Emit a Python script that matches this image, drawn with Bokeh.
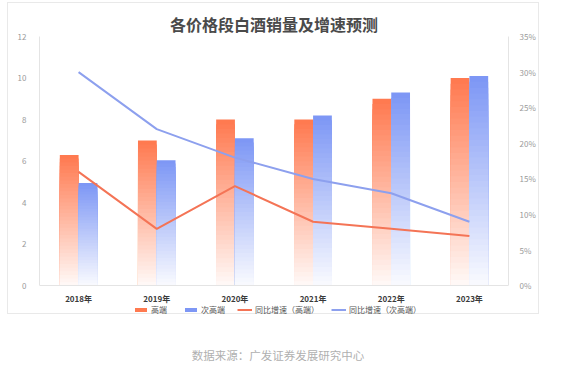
import numpy as np
from bokeh.plotting import figure
from bokeh.models import (ColumnDataSource, FactorRange, Range1d, LinearAxis, Legend,
                          LegendItem, Div, FixedTicker, PrintfTickFormatter, Spacer)
from bokeh.layouts import column, row
from bokeh.transform import dodge
from bokeh.embed import file_html
from bokeh.resources import INLINE

# ---- data ----
years = ["2018年", "2019年", "2020年", "2021年", "2022年", "2023年"]
high_sales = [6.3, 7.0, 8.0, 8.0, 9.0, 10.0]
sub_sales = [4.95, 6.05, 7.1, 8.2, 9.3, 10.1]
high_growth = [16, 8, 14, 9, 8, 7]      # %
sub_growth = [30, 22, 18, 15, 13, 9]    # %
left_ticks = [0, 2, 4, 6, 8, 10, 12]
right_ticks = [0, 5, 10, 15, 20, 25, 30, 35]
series_names = ["高端", "次高端", "同比增速（高端）", "同比增速（次高端）"]
title_text = "各价格段白酒销量及增速预测"
source_text = "数据来源：广发证券发展研究中心"

ORANGE = (255, 120, 78)
BLUE = (124, 150, 245)
ORANGE_LINE = "#F47456"
BLUE_LINE = "#8DA0EE"
FONT = "Noto Sans CJK SC"

N = 36
L_MAX, R_MAX = 12, 35
EXT = 29.5 / 248        # room below zero for the axis labels and legend (fraction of axis span)


def mix(c, t):
    a = 0.04 + 0.96 * t
    r, g, b = (int(round(255 * (1 - a) + ci * a)) for ci in c)
    return "#%02x%02x%02x" % (r, g, b)


def gradient_source(vals, col):
    xs, tops, cols = [], [], []
    for j in range(N, 0, -1):
        t = (j - 0.5) / N
        for y, v in zip(years, vals):
            xs.append(y)
            tops.append(v * j / N)
            cols.append(mix(col, t))
    return ColumnDataSource(dict(year=xs, top=tops, color=cols))


p = figure(width=532, height=312, x_range=FactorRange(*years),
           y_range=Range1d(-L_MAX * EXT, L_MAX),
           output_backend="svg", toolbar_location=None,
           min_border_left=31, min_border_right=32, min_border_top=33, min_border_bottom=0,
           outline_line_color=None, background_fill_color="white", border_fill_color="white",
           styles={"border": "1px solid #e9e9e9"})
p.extra_y_ranges = {"pct": Range1d(-R_MAX * EXT, R_MAX)}

src_h = gradient_source(high_sales, ORANGE)
src_s = gradient_source(sub_sales, BLUE)
r_h = p.vbar(x=dodge("year", -0.12, range=p.x_range), top="top", bottom=0, width=0.24,
             source=src_h, fill_color="color", line_color=None)
r_s = p.vbar(x=dodge("year", 0.12, range=p.x_range), top="top", bottom=0, width=0.24,
             source=src_s, fill_color="color", line_color=None)

r_l1 = p.line(years, high_growth, y_range_name="pct", line_color=ORANGE_LINE, line_width=2)
r_l2 = p.line(years, sub_growth, y_range_name="pct", line_color=BLUE_LINE, line_width=2)

p.xgrid.grid_line_color = None
p.ygrid.grid_line_color = None

p.yaxis[0].ticker = FixedTicker(ticks=left_ticks)
p.yaxis[0].bounds = (0, L_MAX)
right = LinearAxis(y_range_name="pct", ticker=FixedTicker(ticks=right_ticks),
                   formatter=PrintfTickFormatter(format="%d%%"), bounds=(0, R_MAX))
p.add_layout(right, "right")

for ax in [p.yaxis[0], right]:
    ax.axis_line_color = "#e4e4e4"
    ax.major_tick_line_color = None
    ax.minor_tick_line_color = None
    ax.major_label_text_color = "#9a9a9a"
    ax.major_label_text_font = FONT
    ax.major_label_text_font_size = "8px"
p.yaxis[0].major_label_standoff = 7
right.major_label_standoff = 5

xa = p.xaxis[0]
xa.fixed_location = 0
xa.axis_line_color = "#e4e4e4"
xa.major_tick_line_color = None
xa.minor_tick_line_color = None
xa.major_label_text_color = "#3a3a3a"
xa.major_label_text_font = FONT
xa.major_label_text_font_style = "bold"
xa.major_label_text_font_size = "8px"
xa.major_label_standoff = 1

p.title.text = title_text
p.title.align = "center"
p.title.text_font = FONT
p.title.text_font_size = "16px"
p.title.text_font_style = "bold"
p.title.text_color = "#4a4a4a"
p.title.standoff = 2

legend = Legend(items=[
    LegendItem(label=series_names[0], renderers=[r_h]),
    LegendItem(label=series_names[1], renderers=[r_s]),
    LegendItem(label=series_names[2], renderers=[r_l1]),
    LegendItem(label=series_names[3], renderers=[r_l2]),
], orientation="horizontal", location=(94, 0))
legend.glyph_width = 15
legend.glyph_height = 5
legend.label_height = 8
legend.label_standoff = 3
legend.spacing = 12
legend.padding = 0
legend.margin = 0
legend.border_line_color = None
legend.background_fill_alpha = 0
legend.label_text_font = FONT
legend.label_text_font_size = "8px"
legend.label_text_color = "#555555"
p.add_layout(legend, "center")

div = Div(text=source_text, width=532,
          styles={"text-align": "center", "color": "#b0b0b0", "font-size": "11.5px",
                  "font-family": FONT, "margin-top": "33px"})

layout = row(Spacer(width=7), column(Spacer(height=2), p, div))
open("out.html", "w").write(file_html(layout, INLINE))
